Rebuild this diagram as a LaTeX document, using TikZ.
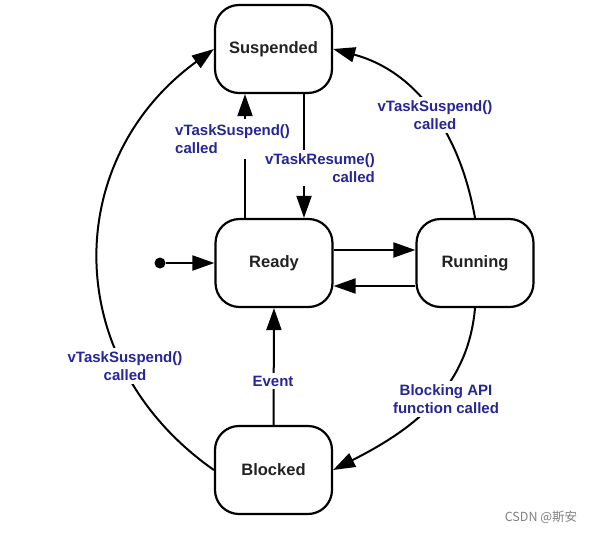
\documentclass[tikz,border=0pt]{standalone}
\usepackage{fontspec}
\setmainfont{Liberation Sans}
\newfontfamily\cjkfont{Noto Sans CJK SC}
\usetikzlibrary{arrows.meta}
\definecolor{lblblue}{RGB}{38,38,150}
\definecolor{boxtext}{RGB}{34,34,34}
\begin{document}
\begin{tikzpicture}[x=1pt,y=-1pt,
  statebox/.style={draw=black,line width=2.2pt,rounded corners=24pt,minimum width=117pt,minimum height=88pt,inner sep=0pt,text=boxtext,font=\fontsize{16.5}{19}\selectfont\bfseries},
  conn/.style={line width=2pt,-{Triangle[length=22pt,width=15pt]}},
  lbl/.style={fill=white,text=lblblue,inner sep=3pt,font=\fontsize{15}{18}\selectfont\bfseries}]
\useasboundingbox (0,0) rectangle (591,533);
\node[statebox] (sus) at (273.5,49) {Suspended};
\node[statebox] (rdy) at (274,263) {Ready};
\node[statebox] (run) at (475,263) {Running};
\node[statebox] (blk) at (273.5,470) {Blocked};
\node[circle,fill=black,inner sep=0pt,minimum size=11pt] (init) at (160,263) {};
% connectors
\draw[conn] (init) -- (rdy);
\draw[conn] ([yshift=13pt]rdy.east) -- ([yshift=13pt]run.west);
\draw[conn] ([yshift=-23pt]run.west) -- ([yshift=-23pt]rdy.east);
\draw[conn] ([xshift=-29pt]rdy.north) -- ([xshift=-28.5pt]sus.south);
\draw[conn] ([xshift=30.5pt]sus.south) -- ([xshift=30pt]rdy.north);
\draw[conn] (blk.north) -- (rdy.south);
\draw[conn] (run.north) to[out=100,in=-15] (sus.east);
\draw[conn] (run.south) to[out=-95,in=27] (blk.east);
\draw[conn] (blk.west) to[out=145,in=216,looseness=1.15] (sus.west);
% labels
\node[lbl,inner ysep=5pt,anchor=west,align=left] (l1) at (172,139) {vTaskSuspend()\\called};
\node[lbl,anchor=east,align=right] (l2) at (378,168) {vTaskResume()\\called};
\node[lbl,align=center] (l3) at (435,115) {vTaskSuspend()\\called};
\node[lbl,align=center] (l4) at (125,366) {vTaskSuspend()\\called};
\node[lbl,align=center] (l5) at (446,399) {Blocking API\\function called};
\node[lbl] (l6) at (273,381) {Event};
\node[text=gray,font=\cjkfont\fontsize{12.5}{14}\selectfont] (wm) at (541,517) {CSDN @斯安};
\end{tikzpicture}
\end{document}
